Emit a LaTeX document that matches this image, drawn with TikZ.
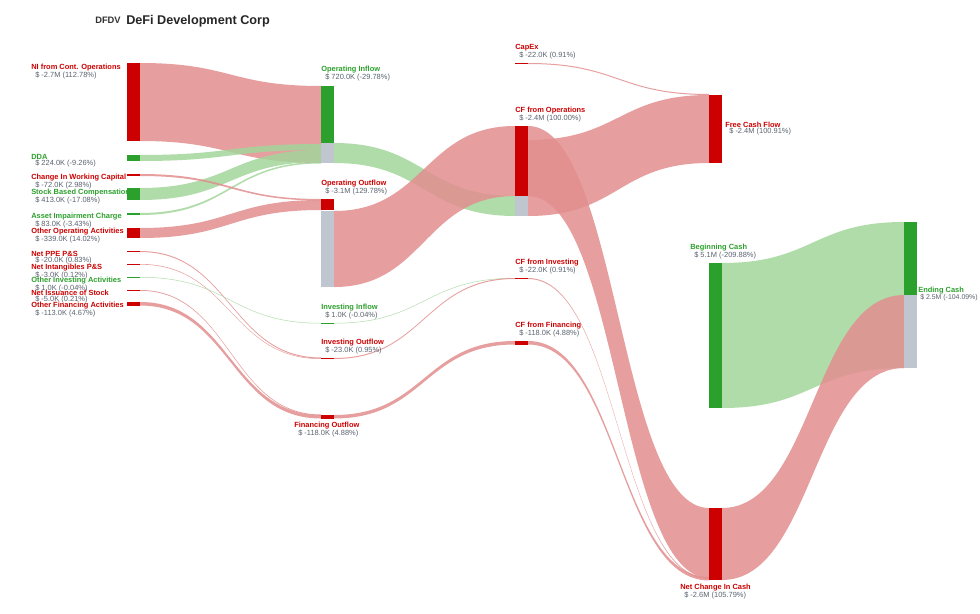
\documentclass[tikz,border=0pt]{standalone}
\usepackage{fontspec}
\setmainfont{Liberation Sans}
\definecolor{rbar}{HTML}{CC0000}
\definecolor{gbar}{HTML}{2CA02C}
\definecolor{gybar}{HTML}{C0C6D0}
\definecolor{rband}{HTML}{E28E8E}
\definecolor{gband}{HTML}{A3D69B}
\definecolor{valc}{HTML}{5A6270}
\newcommand\bnd[7]{\fill[#7] (#1,#2) .. controls ({(#1+#4)/2},#2) and ({(#1+#4)/2},#5) .. (#4,#5) -- (#4,#6) .. controls ({(#1+#4)/2},#6) and ({(#1+#4)/2},#3) .. (#1,#3) -- cycle;}
\newcommand\lab[6]{\node[lbl,text=#5] (#6) at (#1,#2) {\textbf{#3}};
  \node[lbl,text=valc,anchor=north west] at ([xshift=3pt]#6.south west) {#4};}
\begin{document}
\begin{tikzpicture}[x=0.75pt,y=-0.75pt,
  lbl/.style={anchor=north west,inner sep=0pt,font=\fontsize{5.6}{6.8}\selectfont},
  rb/.style={fill=rband,opacity=0.85},
  gb/.style={fill=gband,opacity=0.85}]
\useasboundingbox (0,0) rectangle (980,613);
\fill[white] (0,0) rectangle (980,613);
% bands col1 -> col2
\bnd{140}{63}{141}{321}{86}{163}{rb}
\bnd{140}{155}{161}{321}{144}{150}{gb}
\bnd{140}{188}{200}{321}{150}{162}{gb}
\bnd{140}{213}{215}{321}{162}{163.5}{gb}
\bnd{140}{174}{176}{321}{199}{200.5}{rb}
\bnd{140}{228}{238}{321}{200}{210}{rb}
\bnd{140}{251}{252}{321}{357.5}{358.5}{rb}
\bnd{140}{264}{264.6}{321}{358.5}{359}{rb}
\bnd{140}{277}{277.5}{321}{323}{323.5}{gb}
\bnd{140}{290}{290.8}{321}{414.5}{415.3}{rb}
\bnd{140}{302}{305.5}{321}{415}{418.5}{rb}
% col2 -> col3
\bnd{334}{143}{163}{515}{196}{216}{gb}
\bnd{334}{211}{287}{515}{126}{196}{rb}
\bnd{334}{323}{323.5}{515}{278}{278.5}{gb}
\bnd{334}{358}{359}{515}{278}{279}{rb}
\bnd{334}{415}{418.5}{515}{341}{344.5}{rb}
% col3 -> col4
\bnd{528}{140}{216}{709}{95}{163}{rb}
\bnd{528}{126}{196}{709}{508}{578}{rb}
\bnd{528}{63}{64}{709}{94}{95}{rb}
\bnd{528}{278}{279}{709}{578}{579}{rb}
\bnd{528}{341}{344.5}{709}{577}{580.5}{rb}
% col4 -> col5
\bnd{722}{263}{408}{904}{222}{368}{gb}
\bnd{722}{508}{580}{904}{295}{368}{rb}
% bars
\fill[rbar] (127,63) rectangle (140,141);
\fill[gbar] (127,155) rectangle (140,161);
\fill[rbar] (127,174) rectangle (140,176);
\fill[gbar] (127,188) rectangle (140,200);
\fill[gbar] (127,213) rectangle (140,215);
\fill[rbar] (127,228) rectangle (140,238);
\fill[rbar] (127,251) rectangle (140,252);
\fill[rbar] (127,264) rectangle (140,264.6);
\fill[gbar] (127,277) rectangle (140,277.5);
\fill[rbar] (127,290) rectangle (140,290.8);
\fill[rbar] (127,302) rectangle (140,305.5);
\fill[gbar] (321,86) rectangle (334,143);
\fill[gybar] (321,143) rectangle (334,163);
\fill[rbar] (321,199) rectangle (334,210);
\fill[gybar] (321,211) rectangle (334,287);
\fill[gbar] (321,323) rectangle (334,323.5);
\fill[rbar] (321,358) rectangle (334,359);
\fill[rbar] (321,415) rectangle (334,418.5);
\fill[rbar] (515,63) rectangle (528,64.5);
\fill[rbar] (515,126) rectangle (528,196);
\fill[gybar] (515,196) rectangle (528,216);
\fill[rbar] (515,278) rectangle (528,279);
\fill[rbar] (515,341) rectangle (528,344.5);
\fill[rbar] (709,95) rectangle (722,163);
\fill[gbar] (709,263) rectangle (722,408);
\fill[rbar] (709,508) rectangle (722,580);
\fill[gbar] (904,222) rectangle (917,295);
\fill[gybar] (904,295) rectangle (917,368);
% title
\node[lbl,font=\fontsize{7}{8}\selectfont\bfseries,text=black!80] (logo) at (95,17) {DFDV};
\node[lbl,font=\fontsize{9.5}{11}\selectfont\bfseries,text=black!85] (title) at (126,15) {DeFi Development Corp};
% labels
\lab{31}{64}{NI from Cont. Operations}{\$ -2.7M (112.78\%)}{rbar}{l1}
\lab{31}{154}{DDA}{\$ 224.0K (-9.26\%)}{gbar}{l2}
\lab{31}{174}{Change In Working Capital}{\$ -72.0K (2.98\%)}{rbar}{l3}
\lab{31}{189}{Stock Based Compensation}{\$ 413.0K (-17.08\%)}{gbar}{l4}
\lab{31}{213}{Asset Impairment Charge}{\$ 83.0K (-3.43\%)}{gbar}{l5}
\lab{31}{228}{Other Operating Activities}{\$ -339.0K (14.02\%)}{rbar}{l6}
\lab{31}{251}{Net PPE P\&S}{\$ -20.0K (0.83\%)}{rbar}{l7}
\lab{31}{264}{Net Intangibles P\&S}{\$ -3.0K (0.12\%)}{rbar}{l8}
\lab{31}{277}{Other Investing Activities}{\$ 1.0K (-0.04\%)}{gbar}{l9}
\lab{31}{290}{Net Issuance of Stock}{\$ -5.0K (0.21\%)}{rbar}{l10}
\lab{31}{302}{Other Financing Activities}{\$ -113.0K (4.67\%)}{rbar}{l11}
\lab{321}{66}{Operating Inflow}{\$ 720.0K (-29.78\%)}{gbar}{m1}
\lab{321}{180}{Operating Outflow}{\$ -3.1M (129.78\%)}{rbar}{m2}
\lab{321}{304}{Investing Inflow}{\$ 1.0K (-0.04\%)}{gbar}{m3}
\lab{321}{339}{Investing Outflow}{\$ -23.0K (0.95\%)}{rbar}{m4}
\lab{294}{422}{Financing Outflow}{\$ -118.0K (4.88\%)}{rbar}{m5}
\lab{515}{44}{CapEx}{\$ -22.0K (0.91\%)}{rbar}{n1}
\lab{515}{107}{CF from Operations}{\$ -2.4M (100.00\%)}{rbar}{n2}
\lab{515}{259}{CF from Investing}{\$ -22.0K (0.91\%)}{rbar}{n3}
\lab{515}{322}{CF from Financing}{\$ -118.0K (4.88\%)}{rbar}{n4}
\lab{725}{122}{Free Cash Flow}{\$ -2.4M (100.91\%)}{rbar}{o1}
\lab{690}{244}{Beginning Cash}{\$ 5.1M (-209.88\%)}{gbar}{o2}
\lab{680}{584}{Net Change In Cash}{\$ -2.6M (105.79\%)}{rbar}{o3}
\node[lbl,text=gbar] (p1) at (918,287) {\textbf{Ending Cash}};
\node[lbl,text=valc,font=\fontsize{5.2}{6.4}\selectfont] (p1v) at ([xshift=1.5pt]p1.south west) {\$ 2.5M (-104.09\%)};
\end{tikzpicture}
\end{document}
